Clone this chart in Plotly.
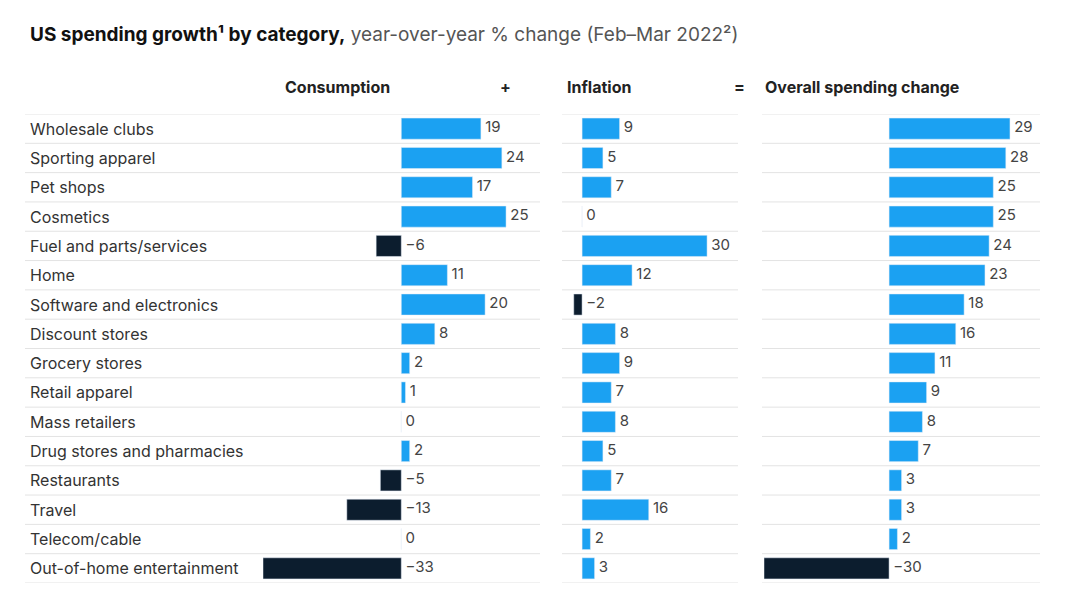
import plotly.graph_objects as go

categories = ["Wholesale clubs", "Sporting apparel", "Pet shops", "Cosmetics",
              "Fuel and parts/services", "Home", "Software and electronics",
              "Discount stores", "Grocery stores", "Retail apparel", "Mass retailers",
              "Drug stores and pharmacies", "Restaurants", "Travel", "Telecom/cable",
              "Out-of-home entertainment"]
consumption = [19, 24, 17, 25, -6, 11, 20, 8, 2, 1, 0, 2, -5, -13, 0, -33]
inflation = [9, 5, 7, 0, 30, 12, -2, 8, 9, 7, 8, 5, 7, 16, 2, 3]
overall = [29, 28, 25, 25, 24, 23, 18, 16, 11, 9, 8, 7, 3, 3, 2, -30]

BLUE = "#1ba1f2"
NAVY = "#0c1d2e"
W, H = 1080, 604
DX, DY = 8, 6  # page offset compensation


def px(x):
    return (x - DX) / W


def py(y):
    return 1 - (y - DY) / H


fig = go.Figure()

panels = [
    (consumption, "", (263, 540), (-33, 33.1)),
    (inflation, "2", (560, 740), (-5.3, 37.9)),
    (overall, "3", (764, 1040), (-30, 36.2)),
]

rows = list(range(len(categories)))
for vals, ax, dom, rng in panels:
    colors = [BLUE if v >= 0 else NAVY for v in vals]
    fig.add_trace(go.Bar(x=vals, y=rows, orientation="h", marker_color=colors,
                         width=0.72, xaxis="x" + ax, yaxis="y", showlegend=False,
                         hoverinfo="skip"))
    fig.add_trace(go.Scatter(
        x=[max(v, 0) for v in vals], y=rows, mode="text",
        text=[" " + (("−" + str(-v)) if v < 0 else str(v)) for v in vals],
        textposition="middle right", textfont=dict(size=15, color="#444"),
        xaxis="x" + ax, yaxis="y", showlegend=False, hoverinfo="skip"))
    fig.layout["xaxis" + ax] = dict(domain=[px(dom[0]), px(dom[1])], range=list(rng),
                                    visible=False, fixedrange=True)

fig.update_layout(
    width=W, height=H, plot_bgcolor="white", paper_bgcolor="white",
    margin=dict(l=0, r=0, t=0, b=0),
    yaxis=dict(range=[15.5, -0.5], visible=False, domain=[py(581), py(112)]),
    font=dict(family="Inter, Noto Sans, sans-serif", color="#333"),
)

segs = [(25, 540), (562, 738), (762, 1040)]
for i in range(len(categories) + 1):
    for a, b in segs:
        fig.add_shape(type="line", xref="paper", yref="y", x0=px(a), x1=px(b),
                      y0=i - 0.5, y1=i - 0.5, line=dict(color="#e3e3e3", width=1))

for i, c in enumerate(categories):
    fig.add_annotation(x=px(28), y=i, xref="paper", yref="y", text=c, showarrow=False,
                       xanchor="left", font=dict(size=16, color="#333"))

headers = [("Consumption", 283), ("+", 498), ("Inflation", 565), ("=", 732),
           ("Overall spending change", 763)]
for t, x in headers:
    fig.add_annotation(x=px(x), y=py(85), xref="paper", yref="paper",
                       text="<b>" + t + "</b>", showarrow=False, xanchor="left",
                       yanchor="middle", font=dict(size=16, color="#222"))

fig.add_annotation(x=px(28), y=py(33), xref="paper", yref="paper", showarrow=False,
                   xanchor="left", yanchor="middle",
                   text="<b>US spending growth¹ by category,</b> "
                        "<span style='color:#555'>year-over-year % change (Feb–Mar 2022²)</span>",
                   font=dict(size=19, color="#111"))

fig.write_html("out.html")
